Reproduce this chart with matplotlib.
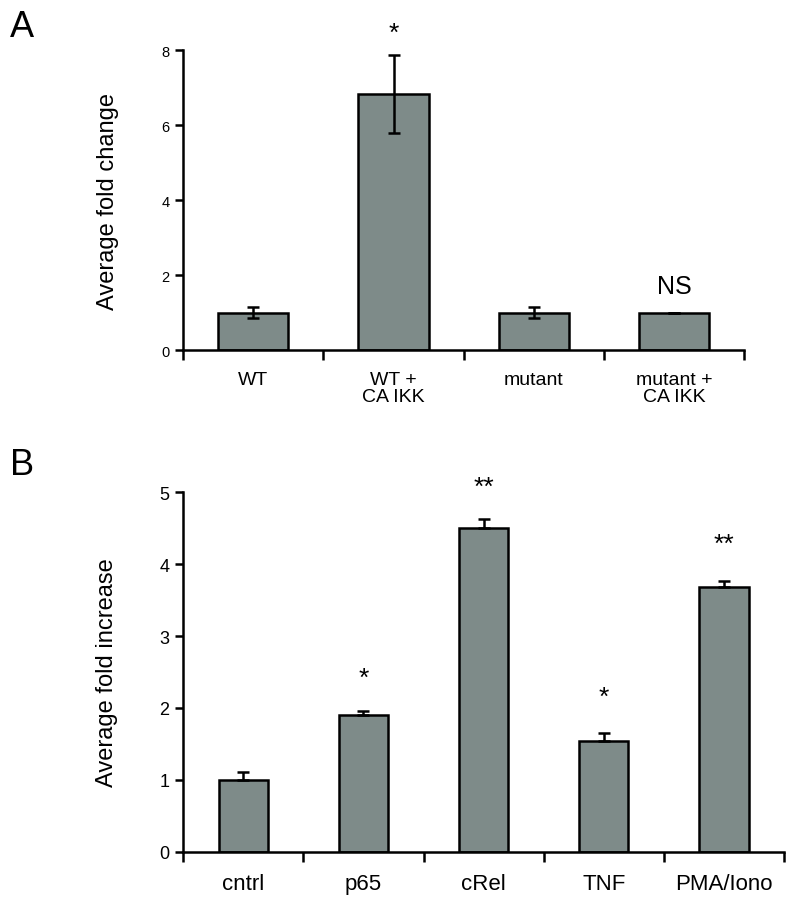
import numpy as np
import matplotlib
matplotlib.use('Agg')
import matplotlib.pyplot as plt

plt.rcParams['font.family'] = ['Liberation Sans', 'DejaVu Sans']

# panel A data
a_labels = ['WT', 'WT +\nCA IKK', 'mutant', 'mutant +\nCA IKK']
a_values = [1.0, 6.83, 1.0, 0.99]
a_errors = [0.14, 1.05, 0.14, 0.01]
a_marks = ['', '*', '', 'NS']
a_mark_y = [0, 8.45, 0, 1.7]

# panel B data
b_labels = ['cntrl', 'p65', 'cRel', 'TNF', 'PMA/Iono']
b_values = [1.0, 1.90, 4.51, 1.54, 3.69]
b_errors = [0.11, 0.06, 0.12, 0.11, 0.08]
b_marks = ['', '*', '**', '*', '**']
b_mark_y = [0, 2.42, 5.08, 2.15, 4.28]

BAR_COLOR = '#7e8b89'


def style_axes(ax, n, ymax, yticks, tick_fs, cat_fs):
    ax.spines['top'].set_visible(False)
    ax.spines['right'].set_visible(False)
    for s in ['left', 'bottom']:
        ax.spines[s].set_linewidth(1.8)
    ax.set_xlim(-0.5, n - 0.5)
    ax.set_ylim(0, ymax)
    ax.set_yticks(yticks)
    ax.tick_params(axis='y', direction='out', length=6, width=1.8,
                   labelsize=tick_fs, pad=4)
    # category separators as ticks, labels centered under bars
    ax.set_xticks(np.arange(n + 1) - 0.5)
    ax.set_xticklabels([])
    ax.tick_params(axis='x', which='major', direction='out', length=7, width=1.8)
    ax.set_xticks(np.arange(n), minor=True)
    ax.tick_params(axis='x', which='minor', length=0, labelsize=cat_fs, pad=15)


fig = plt.figure(figsize=(8, 9.12), dpi=100)

# ---- A ----
axA = fig.add_axes([0.229, 0.615, 0.701, 0.329])
xa = np.arange(len(a_values))
axA.bar(xa, a_values, width=0.5, color=BAR_COLOR, edgecolor='black',
        linewidth=1.8, zorder=2)
axA.errorbar(xa, a_values, yerr=a_errors, fmt='none', ecolor='black',
             elinewidth=1.8, capsize=4, capthick=1.8, zorder=3)
style_axes(axA, len(a_values), 8, [0, 2, 4, 6, 8], 10.5, 14)
axA.set_xticklabels(a_labels, minor=True, linespacing=1.0)
axA.set_ylabel('Average fold change', fontsize=17, labelpad=30)
for x, m, y in zip(xa, a_marks, a_mark_y):
    if m:
        axA.text(x, y, m, ha='center', va='center',
                 fontsize=19 if m == '*' else 18, clip_on=False)
fig.text(0.012, 0.97, 'A', fontsize=26, ha='left', va='center')

# ---- B ----
axB = fig.add_axes([0.229, 0.065, 0.751, 0.394])
xb = np.arange(len(b_values))
axB.bar(xb, b_values, width=0.41, color=BAR_COLOR, edgecolor='black',
        linewidth=1.8, zorder=2)
axB.errorbar(xb, b_values, yerr=[np.zeros(len(b_errors)), b_errors],
             fmt='none', ecolor='black', elinewidth=1.8, capsize=4,
             capthick=1.8, zorder=3)
style_axes(axB, len(b_values), 5, [0, 1, 2, 3, 4, 5], 13, 16)
axB.set_xticklabels(b_labels, minor=True)
axB.set_ylabel('Average fold increase', fontsize=17, labelpad=30)
for x, m, y in zip(xb, b_marks, b_mark_y):
    if m:
        axB.text(x, y, m, ha='center', va='center', fontsize=19,
                 clip_on=False)
fig.text(0.012, 0.49, 'B', fontsize=26, ha='left', va='center')

fig.savefig('out.png', dpi=100)
